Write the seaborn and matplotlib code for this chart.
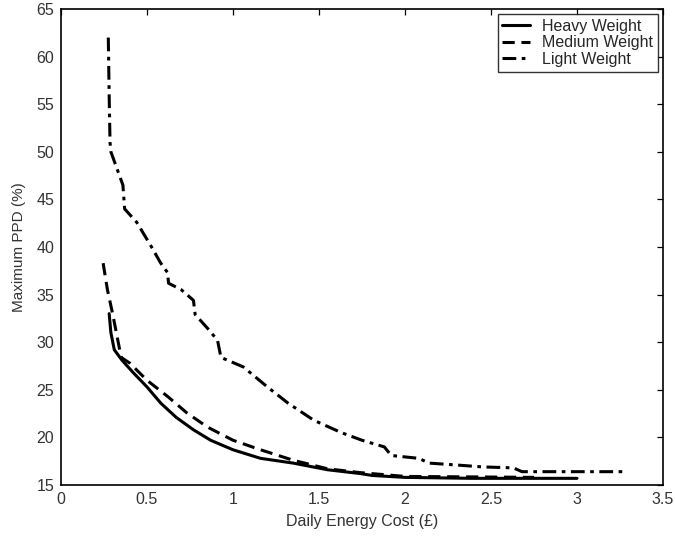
import matplotlib
matplotlib.use("Agg")
import matplotlib.pyplot as plt
import seaborn as sns
import pandas as pd

heavy_x = [0.28, 0.29, 0.31, 0.355, 0.42, 0.50, 0.58, 0.67, 0.77, 0.87, 1.0, 1.16, 1.35, 1.55, 1.74, 1.81, 2.0, 2.39, 3.0]
heavy_y = [33.0, 31.0, 29.2, 28.1, 26.8, 25.3, 23.6, 22.1, 20.8, 19.7, 18.7, 17.8, 17.3, 16.6, 16.2, 16.0, 15.8, 15.7, 15.7]

medium_x = [0.245, 0.27, 0.30, 0.35, 0.40, 0.50, 0.62, 0.73, 0.85, 1.0, 1.16, 1.35, 1.55, 1.74, 2.0, 2.4, 2.75]
medium_y = [38.3, 35.5, 33.0, 28.4, 27.8, 26.0, 24.3, 22.6, 21.1, 19.7, 18.7, 17.6, 16.7, 16.3, 15.9, 15.85, 15.8]

light_x = [0.275, 0.28, 0.285, 0.29, 0.33, 0.36, 0.37, 0.44, 0.52, 0.58, 0.62, 0.625, 0.70, 0.77, 0.78, 0.85,
           0.91, 0.93, 1.06, 1.20, 1.32, 1.47, 1.63, 1.75, 1.88, 1.92, 2.08, 2.14, 2.30, 2.45, 2.63, 2.68, 3.0, 3.27]
light_y = [62.0, 56.0, 51.0, 50.0, 48.0, 46.5, 44.0, 42.6, 40.2, 38.3, 37.3, 36.2, 35.5, 34.4, 32.9, 31.5,
           30.2, 28.4, 27.4, 25.3, 23.6, 21.8, 20.5, 19.7, 19.0, 18.1, 17.8, 17.3, 17.1, 16.9, 16.8, 16.4, 16.4, 16.4]

series = ["Heavy Weight", "Medium Weight", "Light Weight"]
x_ticks = [0, 0.5, 1, 1.5, 2, 2.5, 3, 3.5]
y_ticks = [15, 20, 25, 30, 35, 40, 45, 50, 55, 60, 65]

sns.set_theme(style="white")
plt.rcParams["font.family"] = ["Liberation Sans", "DejaVu Sans"]

fig = plt.figure(figsize=(6.75, 5.37), dpi=100)
ax = fig.add_axes([61/675, 1 - 485/537, (663 - 61)/675, (485 - 9)/537])

styles = {
    "Heavy Weight": dict(linestyle="-"),
    "Medium Weight": dict(dashes=(4, 2.2)),
    "Light Weight": dict(dashes=(4.5, 1.8, 1.2, 1.8)),
}
data = {
    "Heavy Weight": (heavy_x, heavy_y),
    "Medium Weight": (medium_x, medium_y),
    "Light Weight": (light_x, light_y),
}
for name in series:
    xs, ys = data[name]
    df = pd.DataFrame({"x": xs, "y": ys})
    sns.lineplot(data=df, x="x", y="y", ax=ax, color="black", linewidth=2.2,
                 sort=False, estimator=None, label=name, **styles[name])

ax.set_xlim(0, 3.5)
ax.set_ylim(15, 65)
ax.set_xticks(x_ticks)
ax.set_xticklabels([f"{t:g}" for t in x_ticks])
ax.set_yticks(y_ticks)
ax.tick_params(direction="in", top=True, right=True, length=4, width=0.9,
               labelsize=11.5, colors="black", pad=5)
for lbl in ax.get_xticklabels() + ax.get_yticklabels():
    lbl.set_color("#333333")
for s in ax.spines.values():
    s.set_color("black")
    s.set_linewidth(1.2)
ax.set_xlabel("Daily Energy Cost (£)", fontsize=11.5, color="#333333", labelpad=5)
ax.set_ylabel("Maximum PPD (%)", fontsize=11, color="#333333", labelpad=7)

leg = ax.legend(loc="upper right", fontsize=11.5, frameon=True, fancybox=False,
                edgecolor="black", handlelength=1.7, handletextpad=0.8,
                borderaxespad=0.3, labelspacing=0.1, borderpad=0.3)
leg.get_frame().set_linewidth(1.0)

fig.savefig("out.png", dpi=100)
